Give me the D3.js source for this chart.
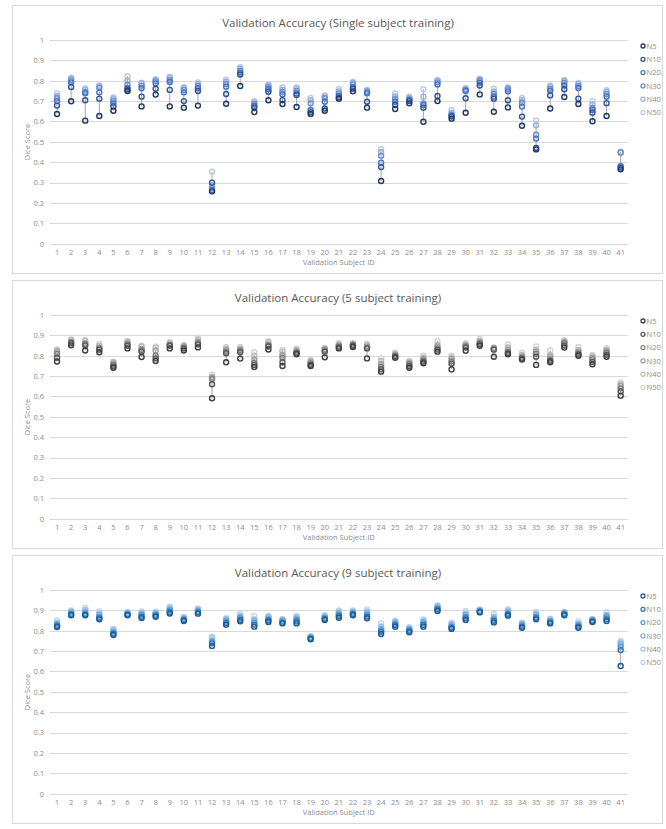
<!DOCTYPE html>
<html>
<head>
<meta charset="utf-8">
<script src="https://cdn.jsdelivr.net/npm/d3@7"></script>
<style>
  html, body { margin: 0; padding: 0; background: #fff; }
  svg text { font-family: "Liberation Sans Narrow", "Open Sans", sans-serif; }
</style>
</head>
<body>
<svg id="chart" width="666" height="829"></svg>
<script>
// ---------- DATA ----------
const seriesNames = ["N5", "N10", "N20", "N30", "N40", "N50"];
const subjects = d3.range(1, 42).map(String);
const yTicks = [0, 0.1, 0.2, 0.3, 0.4, 0.5, 0.6, 0.7, 0.8, 0.9, 1];
const panelTitles = [
  "Validation Accuracy (Single subject training)",
  "Validation Accuracy (5 subject training)",
  "Validation Accuracy (9 subject training)"
];

// one row per subject: [N5, N10, N20, N30, N40, N50]
const singleSubject = [
  [.637,.678,.700,.714,.725,.738],[.699,.769,.792,.802,.810,.815],[.604,.704,.738,.745,.755,.763],
  [.627,.712,.743,.765,.772,.777],[.653,.674,.689,.702,.712,.718],[.750,.757,.765,.780,.800,.822],
  [.674,.722,.763,.776,.787,.790],[.732,.761,.787,.797,.803,.808],[.674,.755,.794,.804,.815,.820],
  [.668,.700,.743,.755,.763,.768],[.678,.750,.763,.774,.784,.792],[.257,.300,.263,.272,.286,.354],
  [.687,.735,.771,.784,.795,.805],[.774,.831,.840,.849,.859,.866],[.646,.668,.676,.686,.694,.700],
  [.704,.746,.758,.768,.777,.782],[.686,.705,.733,.745,.756,.768],[.671,.730,.738,.750,.760,.768],
  [.637,.646,.656,.689,.705,.715],[.653,.664,.697,.714,.723,.728],[.712,.718,.727,.738,.748,.758],
  [.748,.761,.768,.782,.790,.794],[.668,.697,.738,.745,.751,.755],[.308,.376,.398,.432,.450,.465],
  [.661,.682,.697,.710,.723,.737],[.689,.700,.705,.709,.717,.722],[.599,.668,.681,.689,.722,.758],
  [.700,.725,.782,.792,.800,.804],[.614,.624,.628,.633,.643,.656],[.643,.714,.750,.755,.758,.764],
  [.733,.777,.790,.800,.805,.810],[.648,.712,.722,.735,.746,.761],[.669,.704,.748,.758,.763,.768],
  [.579,.624,.673,.692,.705,.715],[.463,.470,.516,.535,.581,.604],[.664,.728,.751,.761,.771,.777],
  [.720,.758,.777,.790,.799,.804],[.686,.712,.764,.774,.784,.789],[.601,.643,.656,.666,.684,.700],
  [.627,.690,.722,.735,.746,.753],[.365,.373,.380,.447,.450,.452]
];
const fiveSubject = [
  [.772,.790,.810,.820,.826,.831],[.851,.861,.865,.869,.877,.880],[.826,.851,.857,.862,.872,.877],
  [.817,.830,.836,.840,.849,.858],[.741,.748,.755,.762,.768,.771],[.836,.849,.855,.861,.869,.872],
  [.794,.820,.827,.833,.845,.849],[.774,.787,.800,.825,.840,.846],[.836,.849,.852,.856,.862,.866],
  [.826,.835,.840,.845,.849,.853],[.841,.856,.862,.869,.880,.889],[.591,.660,.686,.692,.697,.707],
  [.768,.812,.820,.828,.835,.843],[.786,.817,.825,.830,.836,.843],[.745,.755,.766,.780,.799,.817],
  [.831,.845,.850,.856,.866,.871],[.750,.768,.790,.804,.820,.828],[.807,.812,.817,.822,.828,.836],
  [.750,.755,.761,.768,.774,.779],[.792,.820,.826,.831,.835,.838],[.836,.841,.846,.851,.856,.861],
  [.843,.848,.853,.856,.859,.861],[.787,.836,.840,.846,.852,.859],[.722,.733,.745,.758,.774,.787],
  [.790,.795,.800,.804,.810,.815],[.741,.750,.758,.764,.771,.775],[.763,.770,.777,.784,.790,.800],
  [.820,.830,.836,.845,.853,.872],[.733,.761,.772,.784,.792,.800],[.825,.840,.845,.850,.856,.861],
  [.849,.856,.861,.867,.872,.882],[.795,.830,.833,.836,.838,.841],[.807,.812,.820,.830,.841,.856],
  [.781,.786,.790,.797,.804,.815],[.755,.795,.810,.820,.828,.846],[.768,.775,.782,.795,.804,.826],
  [.840,.850,.861,.866,.871,.876],[.800,.806,.812,.820,.828,.843],[.758,.770,.782,.790,.797,.804],
  [.795,.805,.815,.822,.830,.836],[.604,.625,.640,.652,.660,.669]
];
const nineSubject = [
  [.818,.823,.828,.834,.840,.851],[.876,.880,.885,.890,.895,.899],[.876,.880,.885,.894,.902,.912],
  [.856,.862,.869,.877,.885,.895],[.779,.785,.790,.797,.804,.810],[.876,.879,.882,.885,.889,.892],
  [.862,.869,.876,.882,.889,.895],[.869,.874,.879,.884,.889,.894],[.885,.892,.899,.905,.912,.918],
  [.848,.853,.856,.859,.864,.869],[.884,.890,.895,.900,.905,.910],[.725,.738,.745,.751,.764,.771],
  [.830,.838,.845,.852,.858,.862],[.846,.854,.861,.866,.872,.882],[.820,.830,.840,.848,.856,.872],
  [.843,.850,.856,.862,.869,.872],[.836,.840,.846,.850,.854,.858],[.836,.845,.853,.860,.866,.872],
  [.758,.762,.765,.768,.771,.774],[.853,.858,.862,.866,.872,.876],[.864,.872,.879,.886,.892,.899],
  [.876,.881,.885,.890,.895,.899],[.861,.870,.879,.887,.895,.905],[.784,.795,.803,.810,.820,.836],
  [.820,.827,.833,.839,.845,.849],[.792,.798,.804,.808,.812,.817],[.820,.828,.836,.842,.849,.856],
  [.897,.904,.910,.915,.921,.925],[.809,.815,.820,.827,.833,.841],[.853,.861,.869,.877,.885,.897],
  [.890,.893,.896,.899,.902,.905],[.841,.849,.856,.862,.869,.882],[.874,.880,.885,.892,.899,.905],
  [.815,.820,.826,.832,.836,.840],[.856,.862,.869,.877,.885,.892],[.836,.841,.846,.851,.856,.859],
  [.876,.880,.885,.888,.890,.892],[.815,.820,.826,.831,.836,.846],[.843,.847,.850,.853,.856,.858],
  [.848,.857,.866,.872,.879,.892],[.627,.705,.722,.735,.743,.750]
];

const palettes = [
  ["#203864", "#2f5597", "#4472c4", "#6d8fd0", "#97b0de", "#bccbea"],
  ["#3f3f3f", "#595959", "#7f7f7f", "#a0a0a0", "#bcbcbc", "#d4d4d4"],
  ["#1f5b92", "#2e75b6", "#5b9bd5", "#7fb1df", "#9fc4e8", "#bfd7ef"]
];
const panels = [singleSubject, fiveSubject, nineSubject];

// ---------- DRAW ----------
const svg = d3.select("#chart");
const panelStep = 275;
const x = d3.scaleBand().domain(subjects).range([50, 627.7]).padding(0);

panels.forEach((rows, p) => {
  const off = p * panelStep;
  const g = svg.append("g");
  const y = d3.scaleLinear().domain([0, 1]).range([243.7 + off, 40 + off]);

  // panel frame
  g.append("rect").attr("x", 12.5).attr("y", 5.5 + off).attr("width", 650).attr("height", 268)
    .attr("fill", "#fff").attr("stroke", "#d9d9d9").attr("stroke-width", 1);

  // title
  g.append("text").attr("x", 338).attr("y", 26.5 + off).attr("text-anchor", "middle")
    .attr("font-size", 11.5).attr("fill", "#595959").text(panelTitles[p]);

  // gridlines
  g.append("g").selectAll("line").data(yTicks).join("line")
    .attr("x1", 50).attr("x2", 627.7)
    .attr("y1", d => Math.round(y(d)) + 0.5).attr("y2", d => Math.round(y(d)) + 0.5)
    .attr("stroke", "#d9d9d9").attr("stroke-width", 1);

  // y tick labels
  const yAxis = d3.axisLeft(y).tickValues(yTicks).tickSize(0).tickPadding(6)
    .tickFormat(d => d === 0 || d === 1 ? String(d) : d3.format(".1f")(d));
  const ya = g.append("g").attr("transform", "translate(50,0)").call(yAxis);
  ya.select(".domain").remove();
  ya.selectAll("text").attr("font-size", 7.5).attr("fill", "#8c8c8c")
    .style("font-family", "'Liberation Sans Narrow', 'Open Sans', sans-serif");

  // x tick labels
  const xAxis = d3.axisBottom(x).tickSize(0).tickPadding(6);
  const xa = g.append("g").attr("transform", `translate(0,${243.7 + off})`).call(xAxis);
  xa.select(".domain").remove();
  xa.selectAll("text").attr("font-size", 7.5).attr("fill", "#8c8c8c")
    .style("font-family", "'Liberation Sans Narrow', 'Open Sans', sans-serif");

  // axis titles
  g.append("text").attr("x", 338.8).attr("y", 265 + off).attr("text-anchor", "middle")
    .attr("font-size", 7.5).attr("fill", "#8c8c8c").text("Validation Subject ID");
  g.append("text").attr("transform", `translate(30,${142 + off}) rotate(-90)`)
    .attr("text-anchor", "middle").attr("font-size", 7.5).attr("fill", "#8c8c8c").text("Dice Score");

  // high-low lines
  g.append("g").selectAll("line").data(rows).join("line")
    .attr("x1", (d, i) => x(subjects[i]) + x.bandwidth() / 2)
    .attr("x2", (d, i) => x(subjects[i]) + x.bandwidth() / 2)
    .attr("y1", d => y(d3.min(d))).attr("y2", d => y(d3.max(d)))
    .attr("stroke", "#a6a6a6").attr("stroke-width", 1);

  // markers: draw lighter series first so darker sit on top
  for (let s = seriesNames.length - 1; s >= 0; s--) {
    g.append("g").selectAll("circle").data(rows).join("circle")
      .attr("cx", (d, i) => x(subjects[i]) + x.bandwidth() / 2)
      .attr("cy", d => y(d[s]))
      .attr("r", 2.5)
      .attr("fill", "none")
      .attr("stroke", palettes[p][s])
      .attr("stroke-width", 1.4);
  }

  // legend
  const lg = g.append("g");
  seriesNames.forEach((n, s) => {
    const ly = 46 + off + s * 13.3;
    lg.append("circle").attr("cx", 643).attr("cy", ly).attr("r", 2)
      .attr("fill", "none").attr("stroke", palettes[p][s]).attr("stroke-width", 1.3);
    lg.append("text").attr("x", 646.5).attr("y", ly + 2.7).attr("font-size", 7.5)
      .attr("fill", "#8c8c8c").text(n);
  });
});
</script>
</body>
</html>
